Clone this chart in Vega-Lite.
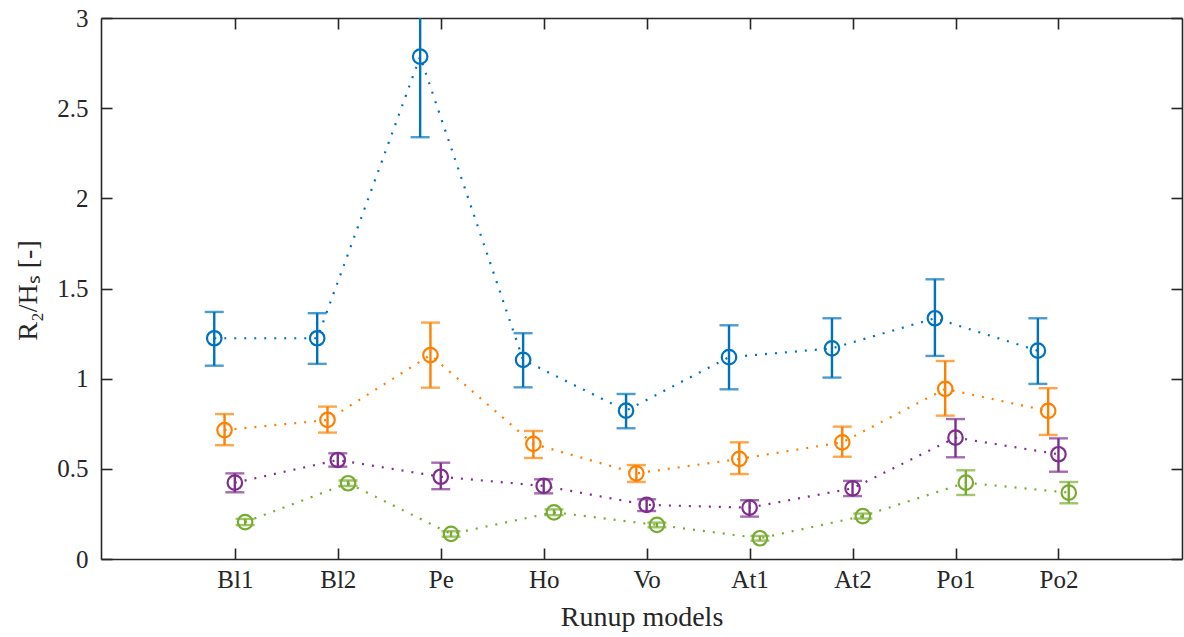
{
  "$schema": "https://vega.github.io/schema/vega-lite/v6.json",
  "width": 1081,
  "height": 541,
  "autosize": {"type": "none"},
  "padding": {"left": 101, "top": 18, "right": 2, "bottom": 78},
  "background": "white",
  "config": {
    "view": {"stroke": null},
    "font": "Liberation Serif",
    "axis": {
      "grid": false,
      "domainColor": "#262626",
      "domainWidth": 1.6,
      "tickColor": "#262626",
      "tickWidth": 1.6,
      "tickSize": -11,
      "labelFont": "Liberation Serif",
      "labelFontSize": 25,
      "labelColor": "#262626",
      "titleFont": "Liberation Serif",
      "titleFontSize": 28,
      "titleFontWeight": "normal",
      "titleColor": "#262626"
    }
  },
  "data": {
    "values": [
      {"model": "Bl1", "series": "s1", "x": 0.8, "val": 1.224, "lo": 1.072, "hi": 1.370},
      {"model": "Bl2", "series": "s1", "x": 1.8, "val": 1.224, "lo": 1.082, "hi": 1.363},
      {"model": "Pe", "series": "s1", "x": 2.8, "val": 2.786, "lo": 2.339, "hi": 3.233},
      {"model": "Ho", "series": "s1", "x": 3.8, "val": 1.104, "lo": 0.952, "hi": 1.252},
      {"model": "Vo", "series": "s1", "x": 4.8, "val": 0.823, "lo": 0.725, "hi": 0.915},
      {"model": "At1", "series": "s1", "x": 5.8, "val": 1.119, "lo": 0.941, "hi": 1.296},
      {"model": "At2", "series": "s1", "x": 6.8, "val": 1.168, "lo": 1.006, "hi": 1.335},
      {"model": "Po1", "series": "s1", "x": 7.8, "val": 1.335, "lo": 1.126, "hi": 1.551},
      {"model": "Po2", "series": "s1", "x": 8.8, "val": 1.155, "lo": 0.971, "hi": 1.335},
      {"model": "Bl1", "series": "s2", "x": 0.9, "val": 0.715, "lo": 0.631, "hi": 0.804},
      {"model": "Bl2", "series": "s2", "x": 1.9, "val": 0.771, "lo": 0.701, "hi": 0.845},
      {"model": "Pe", "series": "s2", "x": 2.9, "val": 1.131, "lo": 0.950, "hi": 1.311},
      {"model": "Ho", "series": "s2", "x": 3.9, "val": 0.638, "lo": 0.560, "hi": 0.710},
      {"model": "Vo", "series": "s2", "x": 4.9, "val": 0.475, "lo": 0.427, "hi": 0.521},
      {"model": "At1", "series": "s2", "x": 5.9, "val": 0.555, "lo": 0.471, "hi": 0.647},
      {"model": "At2", "series": "s2", "x": 6.9, "val": 0.647, "lo": 0.567, "hi": 0.734},
      {"model": "Po1", "series": "s2", "x": 7.9, "val": 0.943, "lo": 0.795, "hi": 1.098},
      {"model": "Po2", "series": "s2", "x": 8.9, "val": 0.821, "lo": 0.688, "hi": 0.947},
      {"model": "Bl1", "series": "s3", "x": 1.0, "val": 0.423, "lo": 0.370, "hi": 0.475},
      {"model": "Bl2", "series": "s3", "x": 2.0, "val": 0.549, "lo": 0.512, "hi": 0.586},
      {"model": "Pe", "series": "s3", "x": 3.0, "val": 0.456, "lo": 0.387, "hi": 0.534},
      {"model": "Ho", "series": "s3", "x": 4.0, "val": 0.405, "lo": 0.364, "hi": 0.442},
      {"model": "Vo", "series": "s3", "x": 5.0, "val": 0.300, "lo": 0.266, "hi": 0.331},
      {"model": "At1", "series": "s3", "x": 6.0, "val": 0.285, "lo": 0.235, "hi": 0.326},
      {"model": "At2", "series": "s3", "x": 7.0, "val": 0.392, "lo": 0.349, "hi": 0.433},
      {"model": "Po1", "series": "s3", "x": 8.0, "val": 0.673, "lo": 0.564, "hi": 0.776},
      {"model": "Po2", "series": "s3", "x": 9.0, "val": 0.581, "lo": 0.484, "hi": 0.669},
      {"model": "Bl1", "series": "s4", "x": 1.1, "val": 0.205, "lo": 0.188, "hi": 0.222},
      {"model": "Bl2", "series": "s4", "x": 2.1, "val": 0.420, "lo": 0.405, "hi": 0.435},
      {"model": "Pe", "series": "s4", "x": 3.1, "val": 0.139, "lo": 0.124, "hi": 0.154},
      {"model": "Ho", "series": "s4", "x": 4.1, "val": 0.259, "lo": 0.243, "hi": 0.275},
      {"model": "Vo", "series": "s4", "x": 5.1, "val": 0.189, "lo": 0.176, "hi": 0.202},
      {"model": "At1", "series": "s4", "x": 6.1, "val": 0.115, "lo": 0.102, "hi": 0.128},
      {"model": "At2", "series": "s4", "x": 7.1, "val": 0.238, "lo": 0.224, "hi": 0.252},
      {"model": "Po1", "series": "s4", "x": 8.1, "val": 0.423, "lo": 0.355, "hi": 0.492},
      {"model": "Po2", "series": "s4", "x": 9.1, "val": 0.368, "lo": 0.309, "hi": 0.427}
    ]
  },
  "resolve": {"scale": {"x": "independent", "y": "independent"}},
  "layer": [
    {
      "encoding": {
        "x": {"field": "x", "type": "quantitative", "scale": {"domain": [-0.3, 10.2], "nice": false, "zero": false},
          "axis": {"values": [1, 2, 3, 4, 5, 6, 7, 8, 9], "labelExpr": "['Bl1','Bl2','Pe','Ho','Vo','At1','At2','Po1','Po2'][datum.value - 1]", "labelPadding": 19, "title": "Runup models", "titleY": 58, "titleBaseline": "middle"}},
        "y": {"field": "val", "type": "quantitative", "scale": {"domain": [0, 3], "nice": false},
          "axis": {"values": [0, 0.5, 1, 1.5, 2, 2.5, 3], "format": "~g", "labelPadding": 24, "title": "R₂/Hₛ [-]", "titleX": -73, "titleY": 272, "titleAngle": 270, "titleAlign": "center", "titleBaseline": "middle"}},
        "color": {"field": "series", "type": "nominal", "scale": {"domain": ["s1", "s2", "s3", "s4"], "range": ["#0072BD", "#FF8000", "#7E2F8E", "#77AC30"]}, "legend": null}
      },
      "layer": [
        {
          "mark": {"type": "line", "strokeDash": [2, 8], "strokeWidth": 2.2, "clip": true},
          "encoding": {"order": {"field": "x", "type": "quantitative"}}
        },
        {
          "mark": {"type": "rule", "strokeWidth": 2.4, "clip": true},
          "encoding": {"y": {"field": "lo", "type": "quantitative"}, "y2": {"field": "hi"}}
        },
        {
          "mark": {"type": "tick", "orient": "horizontal", "size": 19, "thickness": 2.4, "clip": true},
          "encoding": {"y": {"field": "lo", "type": "quantitative"}}
        },
        {
          "mark": {"type": "tick", "orient": "horizontal", "size": 19, "thickness": 2.4, "clip": true},
          "encoding": {"y": {"field": "hi", "type": "quantitative"}}
        },
        {
          "mark": {"type": "point", "shape": "circle", "filled": false, "size": 210, "strokeWidth": 2.2, "opacity": 1},
          "encoding": {}
        }
      ]
    },
    {
      "mark": {"type": "point", "opacity": 0},
      "encoding": {
        "x": {"field": "x", "type": "quantitative", "scale": {"domain": [-0.3, 10.2], "nice": false, "zero": false},
          "axis": {"orient": "top", "values": [1, 2, 3, 4, 5, 6, 7, 8, 9], "labels": false, "title": null}},
        "y": {"field": "val", "type": "quantitative", "scale": {"domain": [0, 3], "nice": false},
          "axis": {"orient": "right", "values": [0, 0.5, 1, 1.5, 2, 2.5, 3], "labels": false, "title": null}}
      }
    }
  ]
}
